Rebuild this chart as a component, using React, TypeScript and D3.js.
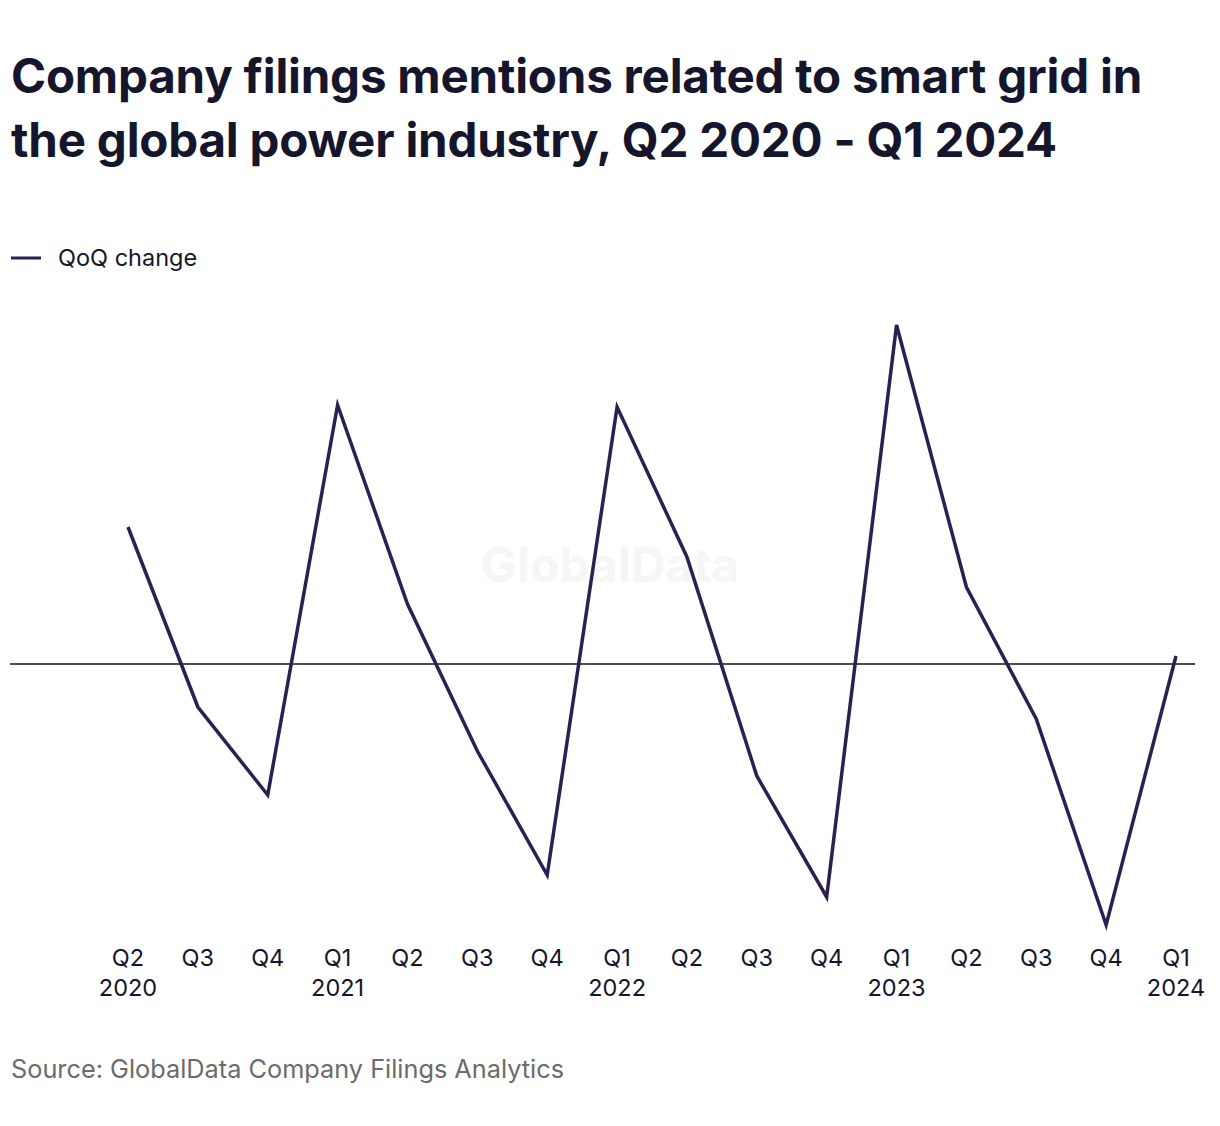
import { useEffect } from "react";
import * as d3 from "d3";

const quarters = ["Q2", "Q3", "Q4", "Q1", "Q2", "Q3", "Q4", "Q1", "Q2", "Q3", "Q4", "Q1", "Q2", "Q3", "Q4", "Q1"];
const years = ["2020", "", "", "2021", "", "", "", "2022", "", "", "", "2023", "", "", "", "2024"];
const qoqChange = [13.7, -4.3, -13.1, 25.9, 6.0, -8.7, -21.1, 25.7, 10.7, -11.2, -23.3, 33.9, 7.7, -5.5, -26.1, 0.8];

const W = 1220;
const H = 1126;
const FONT = "Inter, 'Noto Sans', sans-serif";
const INK = "#15152b";
const LINE = "#2e1f52";

export default function App() {
  useEffect(() => {
    document.body.style.margin = "0";
  }, []);

  const idx = quarters.map((_, i) => i);
  const x = d3.scalePoint<number>().domain(idx).range([128, 1176]);
  const y = d3.scaleLinear().domain([-26.1, 33.9]).range([925, 325]);

  const line = d3
    .line<number>()
    .x((_, i) => x(i) as number)
    .y((d) => y(d));

  return (
    <svg width={W} height={H} style={{ display: "block", background: "#fff" }}>
      <text x={11} y={93} fill={INK} fontFamily={FONT} fontWeight={700} fontSize={47.5} letterSpacing={-0.2}>
        Company filings mentions related to smart grid in
      </text>
      <text x={11} y={157} fill={INK} fontFamily={FONT} fontWeight={700} fontSize={47.5} letterSpacing={-0.2}>
        the global power industry, Q2 2020 - Q1 2024
      </text>

      {/* legend */}
      <line x1={11} x2={41} y1={258} y2={258} stroke={LINE} strokeWidth={3} />
      <text x={58} y={266} fill={INK} fontFamily={FONT} fontSize={23.5}>
        QoQ change
      </text>

      {/* watermark */}
      <text x={610} y={582} textAnchor="middle" fill="#f6f6f6" fontFamily={FONT} fontWeight={700} fontSize={48}>
        GlobalData
      </text>

      {/* zero line */}
      <line x1={10} x2={1195} y1={y(0)} y2={y(0)} stroke="#111122" strokeWidth={1.6} />

      <path d={line(qoqChange) ?? ""} fill="none" stroke={LINE} strokeWidth={3.5} strokeLinejoin="miter" />

      {/* x axis labels */}
      {quarters.map((q, i) => (
        <g key={i} transform={`translate(${x(i)},0)`}>
          <text y={966} textAnchor="middle" fill={INK} fontFamily={FONT} fontSize={23.5}>
            {q}
          </text>
          {years[i] && (
            <text y={996} textAnchor="middle" fill={INK} fontFamily={FONT} fontSize={23.5}>
              {years[i]}
            </text>
          )}
        </g>
      ))}

      <text x={11} y={1078} fill="#6b6b6b" fontFamily={FONT} fontSize={25.3}>
        Source: GlobalData Company Filings Analytics
      </text>
    </svg>
  );
}
